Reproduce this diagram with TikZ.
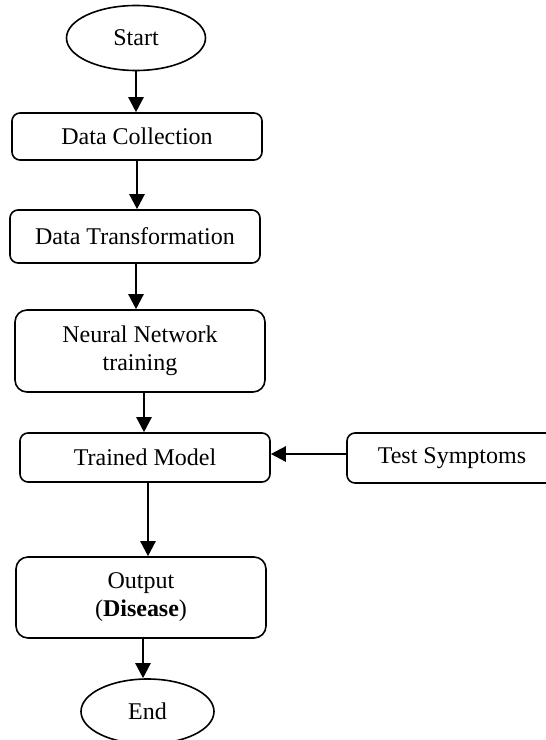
\documentclass[tikz,border=0pt]{standalone}
\usepackage{fontspec}
\setmainfont{Liberation Serif}
\usetikzlibrary{shapes.geometric,arrows.meta}

\begin{document}
\begin{tikzpicture}[x=0.5pt,y=-0.5pt,
  font=\fontsize{12}{14}\selectfont,
  term/.style={draw,ellipse,line width=0.8pt,inner sep=0pt,minimum width=#1,minimum height=32.5pt},
  box/.style={draw,rounded corners=4pt,line width=0.8pt,align=center,minimum width=125pt,minimum height=#1},
  arr/.style={line width=1.2pt,-{Triangle[width=7.5pt,length=7.5pt]}}]
\useasboundingbox (0,0) rectangle (546,740);

\node[term=69.5pt] (start) at (136,38) {Start};
\node[box=23.5pt] (collect) at (137,136.5) {Data Collection};
\node[box=26.5pt] (transform) at (135,236.5) {Data Transformation};
\node[box=41pt,rounded corners=6pt] (nn) at (140,351) {Neural Network\\training};
\node[box=24.5pt] (trained) at (145,457.5) {Trained Model};
\node[box=25pt,minimum width=105pt] (test) at (452,458) {Test Symptoms};
\node[box=40.5pt,rounded corners=6pt] (output) at (141,597.5) {Output\\(\textbf{Disease})};
\node[term=66.5pt] (end) at (147.5,711.5) {End};

\draw[arr] (start.south) -- (start.south |- collect.north);
\draw[arr] (collect.south) -- (collect.south |- transform.north);
\draw[arr] ([xshift=0.5pt]transform.south) -- ([xshift=0.5pt]transform.south |- nn.north);
\draw[arr] ([xshift=2pt]nn.south) -- ([xshift=2pt]nn.south |- trained.north);
\draw[arr] ([xshift=1.5pt]trained.south) -- ([xshift=1.5pt]trained.south |- output.north);
\draw[arr] ([xshift=1pt]output.south) -- ([xshift=1pt]output.south |- end.north);
\draw[arr] ([yshift=2pt]test.west) -- ([yshift=2pt]test.west -| trained.east);
\end{tikzpicture}
\end{document}
